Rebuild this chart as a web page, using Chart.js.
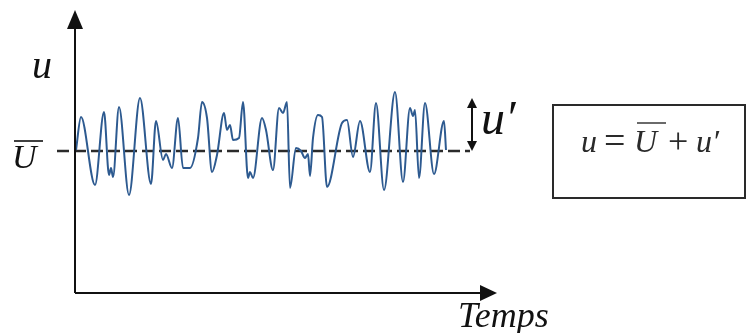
<!DOCTYPE html>
<html>
<head>
<meta charset="utf-8">
<script src="https://cdn.jsdelivr.net/npm/chart.js@4.4.0/dist/chart.umd.min.js"></script>
<style>
    html, body { margin: 0; padding: 0; background: #ffffff; }
    #chartCanvas { display: block; }
</style>
</head>
<body>
<canvas id="chartCanvas" width="747" height="333"></canvas>
<script>
// time samples and instantaneous velocity fluctuation
const timeValues = [1, 6, 20, 29, 34, 36, 38, 44, 54, 65, 76, 81, 88, 91, 97, 103, 108, 115, 123, 127,
    132, 137, 142, 149, 152, 155, 158, 164, 168, 173, 175, 178, 187, 191, 198, 204, 208, 212, 215, 221,
    226, 230, 233, 235, 238, 243, 247, 252, 267, 272, 278, 285, 295, 301, 309, 320, 328, 335, 338, 340,
    344, 350, 359, 369, 371];
const uValues = [1, 34, -34, 39, -24, -17, -26, 44, -44, 53, -33, 30, -9, -3, -17, 33, -17, -17, 13, 49,
    33, -21, -4, 38, 21, 26, 11, 13, 49, -27, -21, -27, 33, 21, -19, 43, 38, 49, -37, 3,
    0, -7, -3, -25, 13, 36, 34, -36, 28, 31, -6, 30, -21, 48, -39, 59, -31, 43, 35, 41,
    -27, 48, -23, 30, 1];

// mean velocity line
const meanTime = [-18, 395];
const meanValue = [0, 0];

// axis ranges
const timeMin = -20;
const timeMax = 420;
const uMin = -142;
const uMax = 136;

const fluctuationAmplitude = 53;

const wavePoints = timeValues.map((t, i) => ({ x: t, y: uValues[i] }));
const meanPoints = meanTime.map((t, i) => ({ x: t, y: meanValue[i] }));

const serif = '"Liberation Serif", "DejaVu Serif", serif';

function arrowHead(ctx, tipX, tipY, dirX, dirY, len, half) {
    const bx = tipX - dirX * len;
    const by = tipY - dirY * len;
    ctx.beginPath();
    ctx.moveTo(tipX, tipY);
    ctx.lineTo(bx - dirY * half, by + dirX * half);
    ctx.lineTo(bx + dirY * half, by - dirX * half);
    ctx.closePath();
    ctx.fill();
}

function overlined(ctx, text, x, baseline, font, barY, barX1, barX2) {
    ctx.font = font;
    ctx.fillText(text, x, baseline);
    ctx.beginPath();
    ctx.moveTo(barX1, barY);
    ctx.lineTo(barX2, barY);
    ctx.stroke();
}

const decorPlugin = {
    id: 'decor',
    afterDatasetsDraw(chart) {
        const ctx = chart.ctx;
        const xs = chart.scales.x;
        const ys = chart.scales.y;
        const x0 = xs.getPixelForValue(0);
        const y0 = ys.getPixelForValue(uMin);
        const yTop = ys.getPixelForValue(uMax);
        const xEnd = xs.getPixelForValue(timeMax);
        const yMean = ys.getPixelForValue(0);

        ctx.save();
        ctx.strokeStyle = '#111';
        ctx.fillStyle = '#111';
        ctx.lineWidth = 2;

        // axes
        ctx.beginPath();
        ctx.moveTo(x0, y0);
        ctx.lineTo(x0, yTop + 12);
        ctx.moveTo(x0, y0);
        ctx.lineTo(xEnd - 14, y0);
        ctx.stroke();
        arrowHead(ctx, x0, yTop - 5, 0, -1, 19, 8);
        arrowHead(ctx, xEnd + 2, y0, 1, 0, 17, 8);

        // u' double arrow
        const ax = xs.getPixelForValue(397);
        const aTop = ys.getPixelForValue(fluctuationAmplitude);
        ctx.lineWidth = 2;
        ctx.beginPath();
        ctx.moveTo(ax, aTop + 8);
        ctx.lineTo(ax, yMean - 8);
        ctx.stroke();
        arrowHead(ctx, ax, aTop, 0, -1, 10, 5);
        arrowHead(ctx, ax, yMean, 0, 1, 10, 5);

        // labels
        ctx.fillStyle = '#111';
        ctx.strokeStyle = '#111';
        ctx.textBaseline = 'alphabetic';
        ctx.textAlign = 'left';
        ctx.font = 'italic 40px ' + serif;
        ctx.fillText('u', 32, 78);

        ctx.lineWidth = 1.6;
        overlined(ctx, 'U', 12, 168, 'italic 34px ' + serif, 141, 14, 43);

        ctx.font = 'italic 48px ' + serif;
        ctx.fillText('u\u2032', 481, 134);

        ctx.font = 'italic 36px ' + serif;
        ctx.fillText('Temps', 458, 327);

        // formula box
        ctx.fillStyle = '#2a2a2a';
        ctx.strokeStyle = '#2a2a2a';
        ctx.lineWidth = 2;
        ctx.strokeRect(553, 105, 192, 93);
        ctx.font = 'italic 32px ' + serif;
        ctx.fillText('u', 581, 152);
        ctx.font = '38px ' + serif;
        ctx.fillText('=', 604, 153);
        ctx.lineWidth = 1.4;
        overlined(ctx, 'U', 634, 152, 'italic 32px ' + serif, 123, 637, 666);
        ctx.font = '36px ' + serif;
        ctx.fillText('+', 668, 153);
        ctx.font = 'italic 32px ' + serif;
        ctx.fillText('u\u2032', 696, 152);

        ctx.restore();
    }
};

function drawChart() {
    const ctx = document.getElementById('chartCanvas').getContext('2d');

    new Chart(ctx, {
        type: 'line',
        data: {
            datasets: [
                {
                    label: 'u',
                    data: wavePoints,
                    borderColor: '#2d5a90',
                    borderWidth: 2,
                    pointRadius: 0,
                    cubicInterpolationMode: 'monotone',
                    fill: false
                },
                {
                    label: 'U',
                    data: meanPoints,
                    borderColor: '#2b2b2b',
                    borderWidth: 2.4,
                    borderDash: [12, 5],
                    pointRadius: 0,
                    fill: false
                }
            ]
        },
        options: {
            responsive: false,
            animation: false,
            devicePixelRatio: 1,
            layout: { padding: { left: 55, right: 252, top: 15, bottom: 40 } },
            plugins: {
                legend: { display: false },
                tooltip: { enabled: false }
            },
            scales: {
                x: { type: 'linear', min: timeMin, max: timeMax, display: false },
                y: { type: 'linear', min: uMin, max: uMax, display: false }
            }
        },
        plugins: [decorPlugin]
    });
}

drawChart();
</script>
</body>
</html>
